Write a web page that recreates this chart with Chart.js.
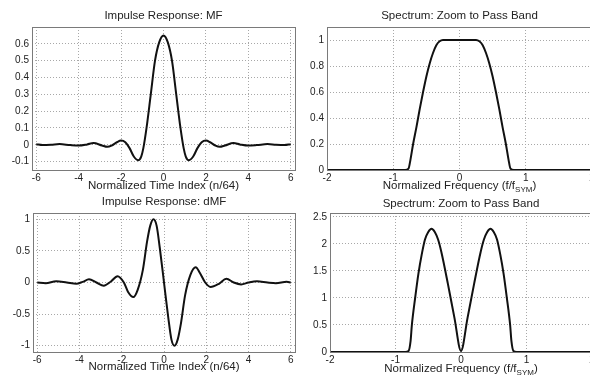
<!DOCTYPE html>
<html>
<head>
<meta charset="utf-8">
<script src="https://cdn.jsdelivr.net/npm/chart.js@4.4.1/dist/chart.umd.min.js"></script>
<style>
  body { margin: 0; background: #fff; overflow: hidden; }
  #wrap { position: relative; width: 590px; height: 377px; overflow: hidden; background: #fff; }
  canvas { position: absolute; }
</style>
</head>
<body>
<div id="wrap">
  <canvas id="c1" width="300" height="196" style="left:0;top:0"></canvas>
  <canvas id="c2" width="300" height="196" style="left:300px;top:0"></canvas>
  <canvas id="c3" width="300" height="187" style="left:0;top:190px"></canvas>
  <canvas id="c4" width="300" height="187" style="left:300px;top:190px"></canvas>
</div>
<script>
// impulse response of the matched filter (time in symbols, n/64)
const mfTime = [-6, -5.7, -5.3, -4.9, -4.4, -4.0, -3.6, -3.3, -2.9, -2.65, -2.45, -2.2, -2.0, -1.8, -1.6, -1.4, -1.2, -1.05, -0.95, -0.8, -0.6, -0.4, -0.2,
  0, 0.2, 0.4, 0.6, 0.8, 0.95, 1.05, 1.2, 1.4, 1.6, 1.8, 2.0, 2.2, 2.45, 2.65, 2.9, 3.3, 3.6, 4.0, 4.4, 4.9, 5.3, 5.7, 6];
const mfValue = [0.003, -0.002, 0.0, 0.004, -0.002, -0.005, 0.002, 0.01, -0.004, -0.012, -0.005, 0.015, 0.025, 0.015, -0.02, -0.07, -0.092, -0.07, -0.02, 0.1, 0.3, 0.5, 0.61,
  0.65, 0.61, 0.5, 0.3, 0.1, -0.02, -0.07, -0.092, -0.07, -0.02, 0.015, 0.025, 0.015, -0.005, -0.012, -0.004, 0.01, 0.002, -0.005, -0.002, 0.004, 0.0, -0.002, 0.003];

// impulse response of the derivative matched filter
const dmfTime = [-6, -5.6, -5.1, -4.6, -4.15, -3.85, -3.55, -3.2, -2.85, -2.5, -2.2, -1.9, -1.7, -1.45, -1.25, -1.0, -0.8, -0.65, -0.5, -0.35, -0.2,
  0, 0.2, 0.35, 0.5, 0.65, 0.8, 1.0, 1.25, 1.5, 1.7, 1.95, 2.2, 2.6, 2.95, 3.3, 3.65, 4.0, 4.4, 4.9, 5.3, 5.8, 6];
const dmfValue = [0, -0.01, 0.02, 0.0, -0.02, 0.01, 0.05, 0.0, -0.05, 0.02, 0.1, 0.0, -0.15, -0.23, -0.12, 0.2, 0.65, 0.9, 1.0, 0.9, 0.55,
  0, -0.55, -0.9, -1.0, -0.9, -0.65, -0.2, 0.12, 0.24, 0.15, 0.0, -0.07, -0.02, 0.06, 0.0, -0.03, 0.0, 0.02, 0.0, -0.01, 0.01, 0];

// spectrum of MF (f / f_sym)
const specFreq = [-2, -0.82, -0.77, -0.74, -0.7, -0.65, -0.6, -0.55, -0.5, -0.45, -0.4, -0.35, -0.3, -0.25,
  0.25, 0.3, 0.35, 0.4, 0.45, 0.5, 0.55, 0.6, 0.65, 0.7, 0.74, 0.77, 0.82, 2];
const specValue = [0, 0, 0.01, 0.08, 0.2, 0.33, 0.47, 0.6, 0.72, 0.82, 0.9, 0.96, 0.99, 1.0,
  1.0, 0.99, 0.96, 0.9, 0.82, 0.72, 0.6, 0.47, 0.33, 0.2, 0.08, 0.01, 0, 0];

// spectrum of dMF
const dspecFreq = [-2, -0.85, -0.8, -0.77, -0.75, -0.7, -0.65, -0.6, -0.55, -0.5, -0.45, -0.4, -0.35, -0.3, -0.2, -0.1,
  0, 0.1, 0.2, 0.3, 0.35, 0.4, 0.45, 0.5, 0.55, 0.6, 0.65, 0.7, 0.75, 0.77, 0.8, 0.85, 2];
const dspecValue = [0, 0, 0.02, 0.2, 0.5, 1.0, 1.45, 1.8, 2.08, 2.22, 2.28, 2.22, 2.08, 1.85, 1.26, 0.63,
  0.02, 0.63, 1.26, 1.85, 2.08, 2.22, 2.28, 2.22, 2.08, 1.8, 1.45, 1.0, 0.5, 0.2, 0.02, 0, 0];

// tick labels
const timeTicks = [-6, -4, -2, 0, 2, 4, 6];
const freqTicks = [-2, -1, 0, 1, 2];
const mfTicks = [-0.1, 0, 0.1, 0.2, 0.3, 0.4, 0.5, 0.6];
const dmfTicks = [-1, -0.5, 0, 0.5, 1];
const specTicks = [0, 0.2, 0.4, 0.6, 0.8, 1];
const dspecTicks = [0, 0.5, 1, 1.5, 2, 2.5];

const FONT = '"Liberation Sans", Arial, sans-serif';

// titles, x labels (with optional subscript) and the axes box
const textPlugin = {
  id: 'texts',
  afterDraw(chart, args, o) {
    const ctx = chart.ctx;
    const a = chart.chartArea;
    const cx = (a.left + a.right) / 2;
    ctx.save();
    ctx.strokeStyle = '#7a7a7a';
    ctx.lineWidth = 1;
    ctx.strokeRect(Math.round(a.left) + 0.5, Math.round(a.top) + 0.5,
      Math.round(a.right - a.left), Math.round(a.bottom - a.top));

    ctx.fillStyle = '#222';
    ctx.textBaseline = 'middle';
    ctx.textAlign = 'center';
    ctx.font = '11.5px ' + FONT;
    ctx.fillText(o.title, cx, o.titleY);

    const labelFont = '11.5px ' + FONT;
    ctx.font = labelFont;
    if (!o.sub) {
      ctx.fillText(o.xlabel, cx, o.xlabelY);
    } else {
      const subFont = '8px ' + FONT;
      const w1 = ctx.measureText(o.xlabel).width;
      const w3 = ctx.measureText(o.tail).width;
      ctx.font = subFont;
      const w2 = ctx.measureText(o.sub).width;
      let x = cx - (w1 + w2 + w3) / 2;
      ctx.textAlign = 'left';
      ctx.font = labelFont;
      ctx.fillText(o.xlabel, x, o.xlabelY);
      ctx.font = subFont;
      ctx.fillText(o.sub, x + w1, o.xlabelY + 4);
      ctx.font = labelFont;
      ctx.fillText(o.tail, x + w1 + w2, o.xlabelY);
    }
    ctx.restore();
  }
};

function fmt(v) {
  return String(+v.toFixed(2));
}

function makeChart(id, xs, ys, xTicks, yTicks, xMin, xMax, yMin, yMax, pad, yWidth, texts) {
  const pts = xs.map((x, i) => ({ x: x, y: ys[i] }));
  const grid = {
    color: '#a8a8a8',
    lineWidth: 1,
    drawTicks: false
  };
  return new Chart(document.getElementById(id), {
    type: 'line',
    data: {
      datasets: [{
        data: pts,
        borderColor: '#111',
        borderWidth: 2,
        pointRadius: 0,
        fill: false,
        cubicInterpolationMode: 'monotone'
      }]
    },
    options: {
      responsive: false,
      animation: false,
      events: [],
      layout: { padding: pad },
      plugins: {
        legend: { display: false },
        tooltip: { enabled: false },
        texts: texts
      },
      scales: {
        x: {
          type: 'linear',
          min: xMin,
          max: xMax,
          afterBuildTicks: s => { s.ticks = xTicks.map(v => ({ value: v })); },
          afterFit: s => { s.height = 16; },
          grid: Object.assign({}, grid),
          border: { display: false, dash: [1, 2] },
          ticks: {
            padding: 2,
            color: '#222',
            font: { family: FONT, size: 10 },
            maxRotation: 0,
            callback: fmt
          }
        },
        y: {
          type: 'linear',
          min: yMin,
          max: yMax,
          afterBuildTicks: s => { s.ticks = yTicks.map(v => ({ value: v })); },
          afterFit: s => { s.width = yWidth; },
          grid: Object.assign({}, grid),
          border: { display: false, dash: [1, 2] },
          ticks: {
            padding: 3,
            color: '#222',
            font: { family: FONT, size: 10 },
            callback: fmt
          }
        }
      }
    },
    plugins: [textPlugin]
  });
}

makeChart('c1', mfTime, mfValue, timeTicks, mfTicks, -6.2, 6.2, -0.15, 0.7,
  { left: 0, top: 27, right: 5, bottom: 10 }, 32,
  { title: 'Impulse Response: MF', titleY: 16, xlabel: 'Normalized Time Index (n/64)', xlabelY: 186 });

makeChart('c2', specFreq, specValue, freqTicks, specTicks, -2, 2, 0, 1.1,
  { left: 0, top: 27, right: 8, bottom: 10 }, 27,
  { title: 'Spectrum: Zoom to Pass Band', titleY: 16, xlabel: 'Normalized Frequency (f/f', sub: 'SYM', tail: ')', xlabelY: 186 });

makeChart('c3', dmfTime, dmfValue, timeTicks, dmfTicks, -6.2, 6.2, -1.1, 1.1,
  { left: 0, top: 23, right: 5, bottom: 9 }, 33,
  { title: 'Impulse Response: dMF', titleY: 12, xlabel: 'Normalized Time Index (n/64)', xlabelY: 177 });

makeChart('c4', dspecFreq, dspecValue, freqTicks, dspecTicks, -2, 2, 0, 2.57,
  { left: 0, top: 23, right: 8, bottom: 9 }, 30,
  { title: 'Spectrum: Zoom to Pass Band', titleY: 14, xlabel: 'Normalized Frequency (f/f', sub: 'SYM', tail: ')', xlabelY: 179 });
</script>
</body>
</html>
